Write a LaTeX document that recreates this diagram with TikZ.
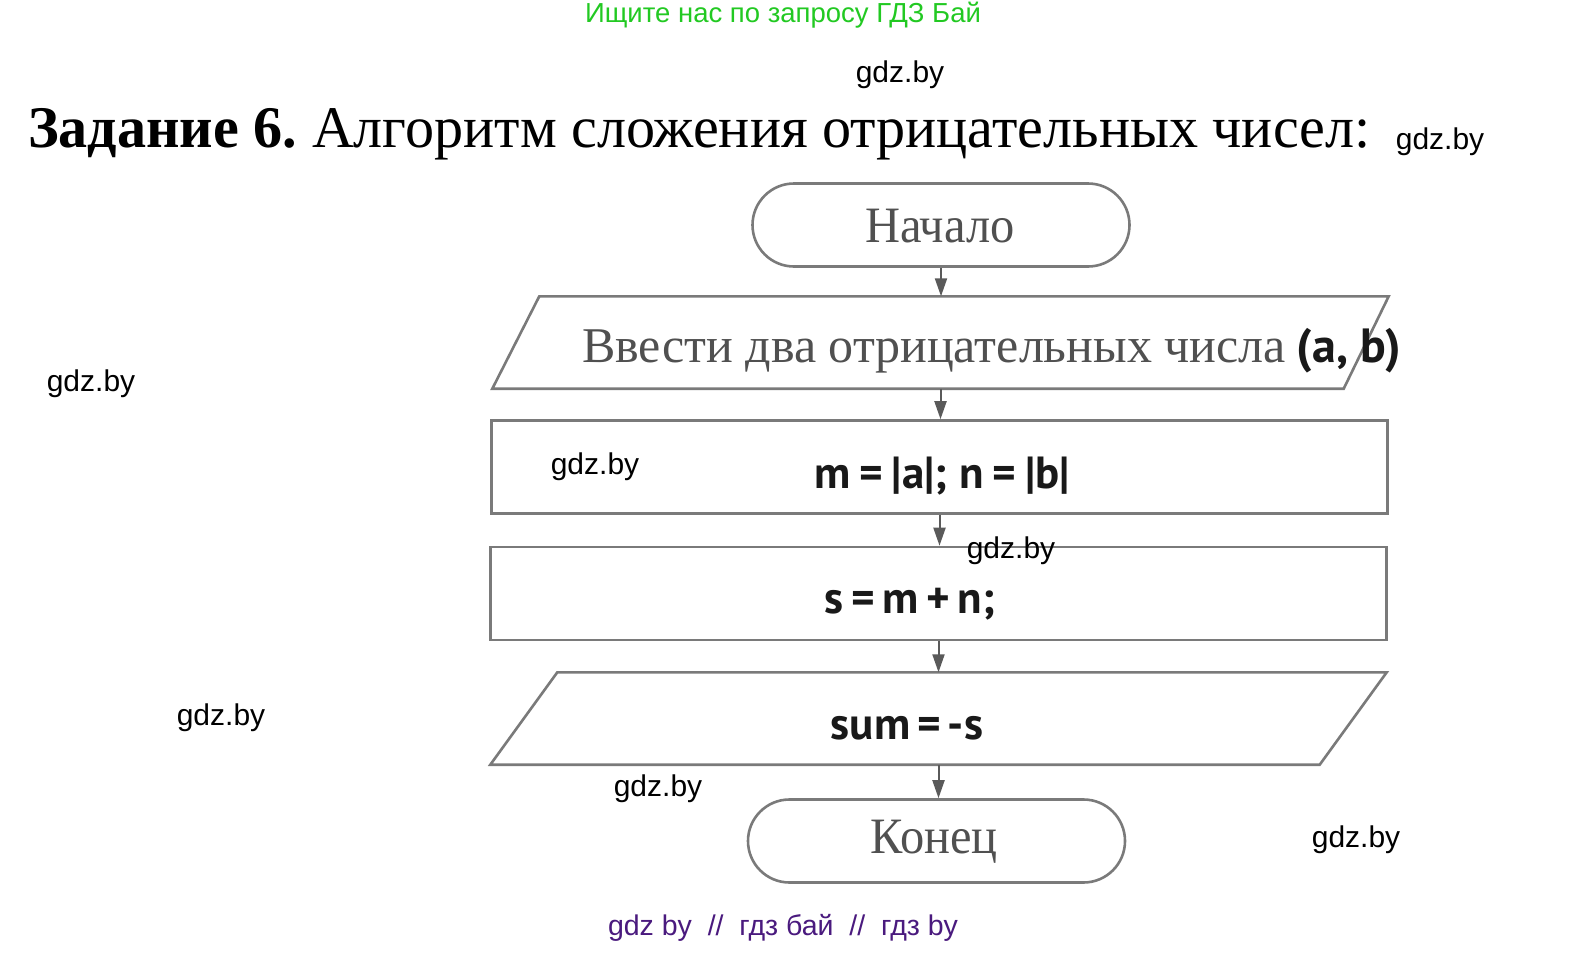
\documentclass[tikz,border=0pt]{standalone}
\usepackage{fontspec}
\setmainfont{Liberation Serif}
\newfontfamily\wmfont{Liberation Sans}
\newfontfamily\boldsans{PT Sans}
\usetikzlibrary{shapes.misc,arrows.meta}
\definecolor{shapegray}{HTML}{7A7A7A}
\definecolor{textgray}{HTML}{505050}
\definecolor{arrowgray}{HTML}{5A5A5A}
\definecolor{wmgreen}{HTML}{22C922}
\definecolor{wmpurple}{HTML}{4A1A7E}
\tikzset{
  terminal/.style={rounded rectangle, draw=shapegray, line width=2.6pt, fill=white,
    minimum width=377pt, minimum height=83pt, inner sep=0pt},
  procbox/.style={rectangle, draw=shapegray, line width=2.6pt, fill=white,
    minimum width=896pt, minimum height=93pt, inner sep=0pt},
  iobox/.style={rectangle, draw=none, minimum width=896pt, minimum height=92pt, inner sep=0pt},
  ioline/.style={draw=shapegray, line width=2.6pt, line join=miter, fill=white},
  flow/.style={draw=arrowgray, line width=2pt, -{Triangle[width=12pt,length=18pt]}},
  wm/.style={font=\wmfont\fontsize{30}{32}\selectfont, text=black, inner sep=0pt},
  serifgray/.style={font=\fontsize{51}{56}\selectfont, text=textgray, inner sep=0pt},
  boldtext/.style={font=\boldsans\bfseries\fontsize{45}{48}\selectfont, text=black!90, inner sep=0pt}
}
\begin{document}
\begin{tikzpicture}[x=1pt,y=-1pt]
\useasboundingbox[fill=white] (0,0) rectangle (1580,953);

% header texts
\node[font=\wmfont\fontsize{27.5}{30}\selectfont, text=wmgreen, inner sep=0pt] (hdr) at (783,15) {Ищите нас по запросу ГДЗ Бай};
\node[anchor=base west, inner sep=0pt, font=\fontsize{59}{62}\selectfont] (title) at (28,147)
  {\scalebox{0.985}[1]{\textbf{Задание 6.}\hspace{15pt}Алгоритм сложения отрицательных чисел:}};

% flowchart shapes
\node[terminal] (start) at (941,225) {};
\node[serifgray] (starttxt) at (940,226) {\scalebox{0.95}[1]{Начало}};

\node[iobox] (in1) at (940.5,342.5) {};
\path[ioline] ([xshift=47pt]in1.north west) -- (in1.north east)
  -- ([xshift=-45pt]in1.south east) -- (in1.south west) -- cycle;
\node[anchor=base west, inner sep=0pt] (in1txt) at (582,362)
  {\textcolor{textgray}{\fontsize{50}{54}\selectfont Ввести два отрицательных числа}\hspace{11pt}{\boldsans\bfseries\fontsize{48}{50}\selectfont\color{black!90}(a, b)}};

\node[procbox] (p1) at (939.5,467) {};
\node[boldtext] (p1txt) at (942,476) {m\hspace{9pt}=\hspace{9pt}|a|; n\hspace{9pt}=\hspace{9pt}|b|};

\node[procbox] (p2) at (938.5,593.5) {};
\node[boldtext] (p2txt) at (910,604) {s\,=\,m\,+\,n;};

\node[iobox] (out1) at (938.5,718.5) {};
\path[ioline] ([xshift=67pt]out1.north west) -- (out1.north east)
  -- ([xshift=-67pt]out1.south east) -- (out1.south west) -- cycle;
\node[boldtext] (outtxt) at (907,728) {sum\hspace{7pt}=\hspace{7pt}-s};

\node[terminal] (end) at (936.5,841) {};
\node[serifgray] (endtxt) at (934,842) {\scalebox{0.95}[1]{Конец}};

% connectors
\draw[flow] (start.south) -- (start.south |- in1.north);
\draw[flow] (in1.south) -- (in1.south |- p1.north);
\draw[flow] (p1.south) -- (p1.south |- p2.north);
\draw[flow] (p2.south) -- (p2.south |- out1.north);
\draw[flow] (out1.south) -- (out1.south |- end.north);

% watermarks
\node[wm] (w1) at (900,75) {gdz.by};
\node[wm] (w2) at (1440,142) {gdz.by};
\node[wm] (w3) at (91,384) {gdz.by};
\node[wm] (w4) at (595,467) {gdz.by};
\node[wm] (w5) at (1011,551) {gdz.by};
\node[wm] (w6) at (221,718) {gdz.by};
\node[wm] (w7) at (658,789) {gdz.by};
\node[wm] (w8) at (1356,840) {gdz.by};

\node[font=\wmfont\fontsize{28.5}{30}\selectfont, text=wmpurple, inner sep=0pt] (ftr) at (783,928)
  {gdz by\ \ //\ \ гдз бай\ \ //\ \ гдз by};
\end{tikzpicture}
\end{document}
